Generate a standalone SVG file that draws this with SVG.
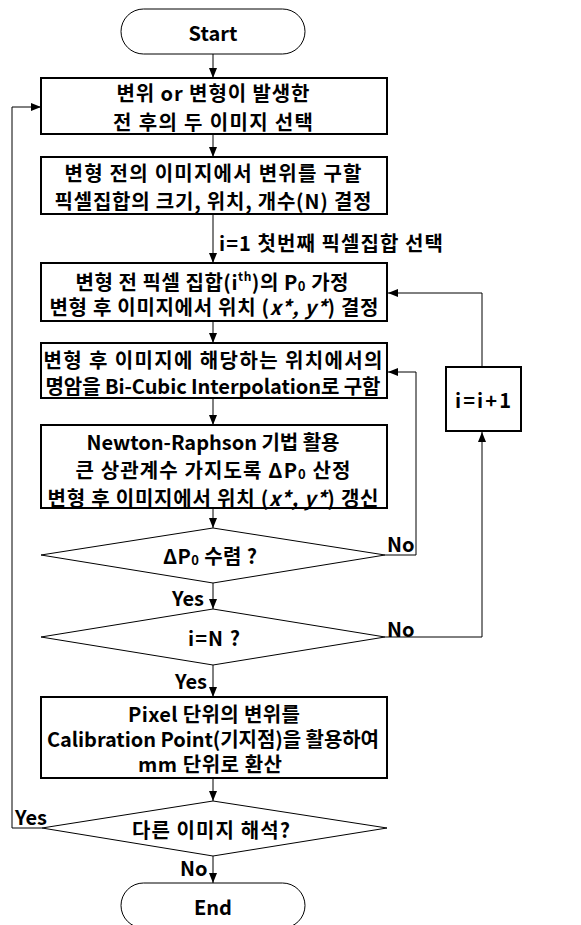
<svg xmlns="http://www.w3.org/2000/svg" width="581" height="925" viewBox="0 0 581 925">
<defs>
<marker id="ah" viewBox="0 0 10 10" refX="10" refY="5" markerWidth="10" markerHeight="10" markerUnits="userSpaceOnUse" orient="auto">
<path d="M0,1 L10,5 L0,9 Z" fill="#000"/>
</marker>
</defs>
<style>
text{font-family:"Noto Sans CJK KR","Noto Sans",sans-serif;font-weight:bold;font-size:20px;fill:#000;text-anchor:middle;dominant-baseline:central}
.box{fill:#fff;stroke:#000;stroke-width:2}
.thin{fill:#fff;stroke:#000;stroke-width:1}
.c{fill:none;stroke:#000;stroke-width:1}
.lbl{text-anchor:start}
</style>
<rect width="581" height="925" fill="#fff"/>
<g id="connectors">
<line class="c" x1="213" y1="54" x2="213" y2="78" marker-end="url(#ah)"/>
<line class="c" x1="213" y1="134" x2="213" y2="157" marker-end="url(#ah)"/>
<line class="c" x1="213" y1="214" x2="213" y2="263" marker-end="url(#ah)"/>
<line class="c" x1="213" y1="321" x2="213" y2="343" marker-end="url(#ah)"/>
<line class="c" x1="213" y1="398" x2="213" y2="425" marker-end="url(#ah)"/>
<line class="c" x1="213" y1="508" x2="213" y2="528" marker-end="url(#ah)"/>
<line class="c" x1="213" y1="583" x2="213" y2="609" marker-end="url(#ah)"/>
<line class="c" x1="213" y1="665" x2="213" y2="697" marker-end="url(#ah)"/>
<line class="c" x1="213" y1="778" x2="213" y2="801" marker-end="url(#ah)"/>
<line class="c" x1="213" y1="856" x2="213" y2="883" marker-end="url(#ah)"/>
<polyline class="c" points="385,555 416,555 416,372 388,372" marker-end="url(#ah)"/>
<polyline class="c" points="385,637 482,637 482,432" marker-end="url(#ah)"/>
<polyline class="c" points="482,367 482,293 388,293" marker-end="url(#ah)"/>
<polyline class="c" points="42,828 12,828 12,107 41,107" marker-end="url(#ah)"/>
<text class="lbl" x="219" y="242" textLength="224">i=1 첫번째 픽셀집합 선택</text>
<text class="lbl" x="387" y="543">No</text>
<text class="lbl" x="387" y="628">No</text>
<text class="lbl" x="172" y="597">Yes</text>
<text class="lbl" x="175" y="680">Yes</text>
<text class="lbl" x="15" y="816">Yes</text>
<text class="lbl" x="180" y="867">No</text>
</g>
<g id="start">
<rect class="thin" x="121" y="9" width="184" height="45" rx="22.5"/>
<text x="213" y="32">Start</text>
</g>
<g id="select-images">
<rect class="box" x="41" y="78" width="346" height="56"/>
<text x="213" y="92" textLength="193">변위 or 변형이 발생한</text>
<text x="213" y="121" textLength="200">전 후의 두 이미지 선택</text>
</g>
<g id="define-subsets">
<rect class="box" x="41" y="157" width="346" height="57"/>
<text x="213" y="172" textLength="297">변형 전의 이미지에서 변위를 구할</text>
<text x="213" y="200" textLength="317">픽셀집합의 크기, 위치, 개수(N) 결정</text>
</g>
<g id="assume-p0">
<rect class="box" x="41" y="263" width="346" height="58"/>
<text x="212" y="281" textLength="273">변형 전 픽셀 집합(i<tspan dy="-6" font-size="12">th</tspan><tspan dy="6">)의 P</tspan><tspan dy="4" font-size="13">0</tspan><tspan dy="-4"> 가정</tspan></text>
<text x="214" y="306" textLength="329">변형 후 이미지에서 위치 (<tspan font-style="italic">x*, y*</tspan>) 결정</text>
</g>
<g id="interpolation">
<rect class="box" x="41" y="343" width="346" height="55"/>
<text x="213" y="359" textLength="339">변형 후 이미지에 해당하는 위치에서의</text>
<text x="213" y="385" textLength="335">명암을 Bi-Cubic Interpolation로 구함</text>
</g>
<g id="newton">
<rect class="box" x="41" y="425" width="346" height="83"/>
<text x="213" y="441" textLength="253">Newton-Raphson 기법 활용</text>
<text x="213" y="469" textLength="275">큰 상관계수 가지도록 ΔP<tspan dy="4" font-size="13">0</tspan><tspan dy="-4"> 산정</tspan></text>
<text x="213" y="497" textLength="331">변형 후 이미지에서 위치 (<tspan font-style="italic">x*, y*</tspan>) 갱신</text>
</g>
<g id="converge">
<polygon class="thin" points="213,528 385,555 213,583 41,555"/>
<text x="210" y="555" textLength="94">ΔP<tspan dy="4" font-size="13">0</tspan><tspan dy="-4"> 수렴 ?</tspan></text>
</g>
<g id="increment">
<rect class="box" x="446" y="367" width="75" height="64"/>
<text x="483" y="399" textLength="56">i=i+1</text>
</g>
<g id="check-n">
<polygon class="thin" points="213,609 385,637 213,665 41,637"/>
<text x="214" y="637" textLength="52">i=N ?</text>
</g>
<g id="convert">
<rect class="box" x="41" y="697" width="346" height="81"/>
<text x="214" y="713" textLength="172">Pixel 단위의 변위를</text>
<text x="213" y="738" textLength="332">Calibration Point(기지점)을 활용하여</text>
<text x="210" y="763" textLength="144">mm 단위로 환산</text>
</g>
<g id="other-image">
<polygon class="thin" points="213,801 387,828 213,856 42,828"/>
<text x="211" y="829" textLength="158">다른 이미지 해석?</text>
</g>
<g id="end">
<rect class="thin" x="121" y="883" width="184" height="45" rx="22.5"/>
<text x="213" y="906">End</text>
</g>
</svg>
